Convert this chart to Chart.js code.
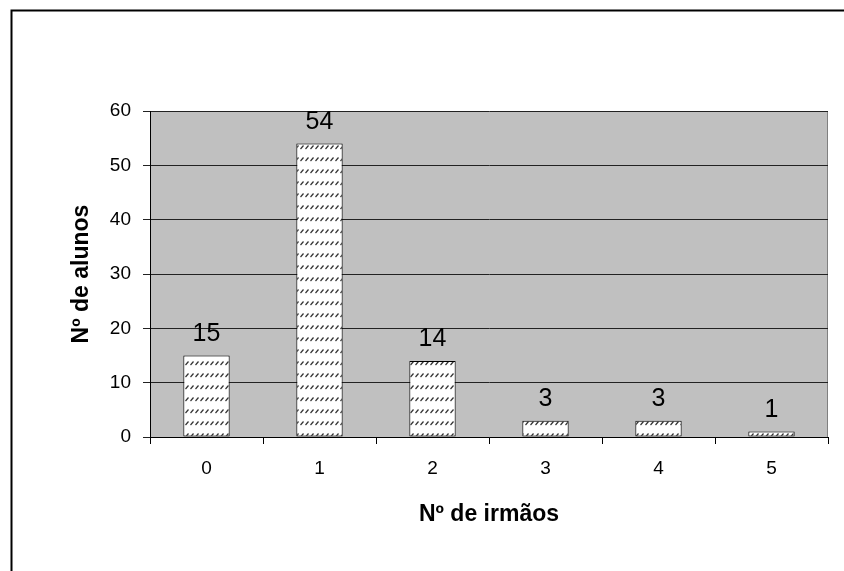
<!DOCTYPE html>
<html>
<head>
<meta charset="utf-8">
<title>Nº de irmãos</title>
<script src="https://cdn.jsdelivr.net/npm/chart.js@4/dist/chart.umd.min.js"></script>
<style>
    body { margin: 0; background: #fff; }
    #wrap { width: 844px; height: 571px; }
</style>
</head>
<body>
<div id="wrap"><canvas id="irmaosChart" width="844" height="571"></canvas></div>
<script>

// ===============================
// Data
// ===============================

const categorias = ["0", "1", "2", "3", "4", "5"];
const alunos = [15, 54, 14, 3, 3, 1];
const yTicks = [0, 10, 20, 30, 40, 50, 60];

const tituloX = "Nº de irmãos";
const tituloY = "Nº de alunos";

const fonte = "'Liberation Sans', Arial, sans-serif";

// ===============================
// Hatch pattern for the bars
// ===============================

function makePattern() {

    const tile = document.createElement("canvas");
    tile.width = 5;
    tile.height = 12;

    const t = tile.getContext("2d");

    t.fillStyle = "#ffffff";
    t.fillRect(0, 0, 5, 12);

    t.strokeStyle = "#333333";
    t.lineWidth = 1.2;
    t.beginPath();
    t.moveTo(0.5, 5);
    t.lineTo(3.5, 1.5);
    t.stroke();

    const ctx = document.getElementById("irmaosChart").getContext("2d");

    return ctx.createPattern(tile, "repeat");

}

// ===============================
// Plugins
// ===============================

const plotBackground = {
    id: "plotBackground",
    beforeDraw(chart) {
        const { ctx, chartArea } = chart;
        ctx.save();
        ctx.fillStyle = "#c0c0c0";
        ctx.fillRect(chartArea.left, chartArea.top,
            chartArea.right - chartArea.left, chartArea.bottom - chartArea.top);
        ctx.strokeStyle = "#808080";
        ctx.lineWidth = 1;
        ctx.beginPath();
        ctx.moveTo(chartArea.right - 0.5, chartArea.top);
        ctx.lineTo(chartArea.right - 0.5, chartArea.bottom);
        ctx.stroke();
        ctx.restore();
    }
};

const valueLabels = {
    id: "valueLabels",
    afterDatasetsDraw(chart) {
        const ctx = chart.ctx;
        const meta = chart.getDatasetMeta(0);
        ctx.save();
        ctx.font = "25px " + fonte;
        ctx.fillStyle = "#000000";
        ctx.textAlign = "center";
        ctx.textBaseline = "alphabetic";
        meta.data.forEach(function (bar, i) {
            ctx.fillText(String(alunos[i]), bar.x, bar.y - 15);
        });
        ctx.restore();
    }
};

const outerBorder = {
    id: "outerBorder",
    afterDraw(chart) {
        const ctx = chart.ctx;
        ctx.save();
        ctx.strokeStyle = "#000000";
        ctx.lineWidth = 2;
        ctx.beginPath();
        ctx.moveTo(11.5, chart.height);
        ctx.lineTo(11.5, 10.5);
        ctx.lineTo(chart.width, 10.5);
        ctx.stroke();
        ctx.restore();
    }
};

// ===============================
// Chart
// ===============================

const irmaosChart = new Chart(document.getElementById("irmaosChart"), {
    type: "bar",
    data: {
        labels: categorias,
        datasets: [{
            label: tituloY,
            data: alunos,
            backgroundColor: makePattern(),
            borderColor: "#000000",
            borderWidth: 1,
            borderSkipped: false,
            barPercentage: 0.41,
            categoryPercentage: 1
        }]
    },
    options: {
        responsive: false,
        animation: false,
        devicePixelRatio: 1,
        layout: {
            padding: { top: 111, right: 16, left: 0, bottom: 0 }
        },
        plugins: {
            legend: { display: false },
            tooltip: { enabled: false }
        },
        scales: {
            x: {
                offset: true,
                afterFit(scale) { scale.height = 134; },
                grid: {
                    offset: true,
                    drawOnChartArea: false,
                    drawTicks: true,
                    tickLength: 7,
                    color: "#000000"
                },
                border: { color: "#000000", width: 1 },
                ticks: {
                    color: "#000000",
                    padding: 13,
                    font: { family: fonte, size: 19 }
                },
                title: {
                    display: true,
                    text: tituloX,
                    color: "#000000",
                    padding: { top: 0, bottom: 43 },
                    font: { family: fonte, size: 23, weight: "bold" }
                }
            },
            y: {
                min: yTicks[0],
                max: yTicks[yTicks.length - 1],
                afterFit(scale) { scale.width = 150; },
                afterBuildTicks(scale) {
                    scale.ticks = yTicks.map(function (v) { return { value: v }; });
                },
                grid: {
                    color: "#222222",
                    lineWidth: 1,
                    drawTicks: true,
                    tickLength: 7
                },
                border: { color: "#000000", width: 1 },
                ticks: {
                    color: "#000000",
                    padding: 12,
                    font: { family: fonte, size: 19 }
                },
                title: {
                    display: true,
                    text: tituloY,
                    color: "#000000",
                    padding: { top: 68, bottom: 0 },
                    font: { family: fonte, size: 23, weight: "bold" }
                }
            }
        }
    },
    plugins: [plotBackground, valueLabels, outerBorder]
});

</script>
</body>
</html>
